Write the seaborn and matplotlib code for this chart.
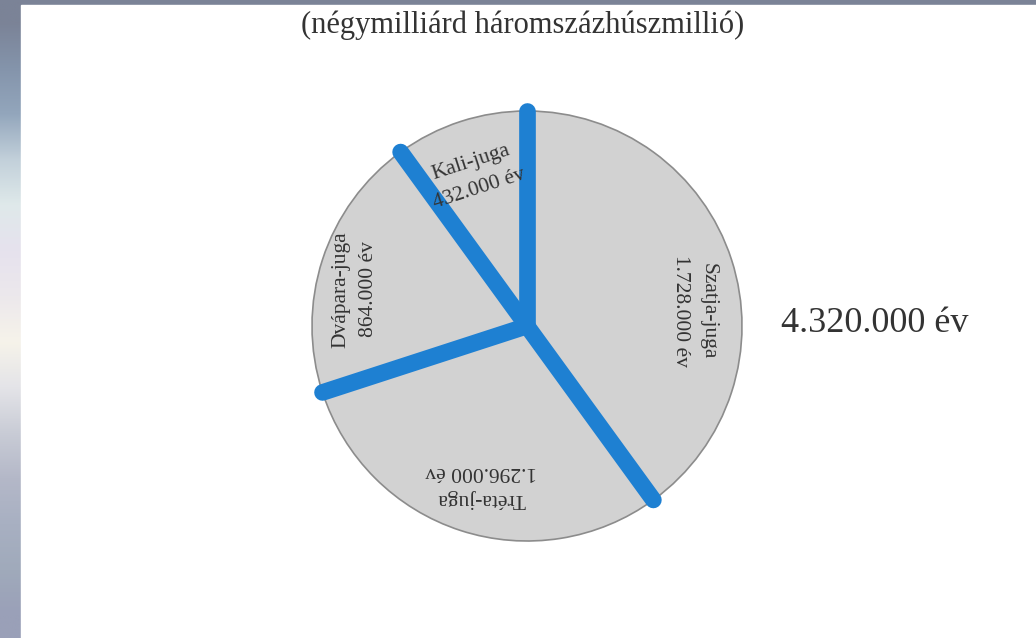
import numpy as np
import matplotlib
matplotlib.use("Agg")
import matplotlib.pyplot as plt
import seaborn as sns

# Yuga lengths (years), clockwise from 12 o'clock
yugas = ["Szatja-juga", "Tréta-juga", "Dvápara-juga", "Kali-juga"]
years = [1728000, 1296000, 864000, 432000]
year_labels = ["1.728.000 év", "1.296.000 év", "864.000 év", "432.000 év"]
total_label = "4.320.000 év"
title = "(négymilliárd háromszázhúszmillió)"

# label styling per wedge: rotation, extra angle offset (deg), radius factor
label_rot = [-90, 180, 90, 18]
label_dang = [-13, 2, 6, 1]
label_rad = [0.78, 0.77, 0.82, 0.74]

W, H = 1036, 638
CX, CY, R = 527, H - 326, 215
GRAY = "#d2d2d2"
BLUE = "#1e80d2"
TXT = "#333333"

sns.set_theme(style="white")
plt.rcParams["font.family"] = ["Liberation Serif", "DejaVu Serif"]

fig = plt.figure(figsize=(W / 100, H / 100), dpi=100)
fig.patch.set_facecolor("#7b8397")

# left background strip (blurry sky)
strip_cols = ["#7b8397", "#8494ab", "#93a6bc", "#c2d0da", "#dfe9ea", "#e6e2ee",
              "#ece8ec", "#f6f3ea", "#e4e4e8", "#c9ccd6", "#b4b8c8", "#a8b0c2",
              "#a0aabb", "#9aa0b8"]
grad = np.array([matplotlib.colors.to_rgb(c) for c in strip_cols])[:, None, :]
bg = fig.add_axes([0, 0, 1, 1])
bg.imshow(grad, extent=[0, 21, 0, H], aspect="auto", interpolation="bilinear")
bg.add_patch(plt.Rectangle((21, 0), W - 21, H - 5, color="white", zorder=2))
bg.set_xlim(0, W)
bg.set_ylim(0, H)
bg.axis("off")

ax = fig.add_axes([0, 0, 1, 1])
ax.set_facecolor("none")
ax.pie(years, startangle=90, counterclock=False, center=(CX, CY), radius=R,
       colors=[GRAY] * len(years), frame=True,
       wedgeprops=dict(edgecolor="#8c8c8c", linewidth=1.2))

# thick blue wedge borders
frac = np.cumsum([0] + years[:-1]) / sum(years)
for f in frac:
    th = np.deg2rad(90 - 360 * f)
    ax.plot([CX, CX + R * np.cos(th)], [CY, CY + R * np.sin(th)],
            color=BLUE, lw=12, solid_capstyle="round", zorder=5)

# wedge labels
mids = (np.cumsum(years) - np.array(years) / 2) / sum(years)
for i, m in enumerate(mids):
    th = np.deg2rad(90 - 360 * m + label_dang[i])
    x = CX + label_rad[i] * R * np.cos(th)
    y = CY + label_rad[i] * R * np.sin(th)
    ax.text(x, y, f"{yugas[i]}\n{year_labels[i]}", rotation=label_rot[i],
            ha="center", va="center", multialignment="center", fontsize=15.5,
            color=TXT, linespacing=1.6, rotation_mode="anchor", zorder=6)

ax.text(523, H - 25, title, ha="center", va="center", fontsize=22, color=TXT)
ax.text(875, H - 324, total_label, ha="center", va="center", fontsize=26, color=TXT)

ax.set_xlim(0, W)
ax.set_ylim(0, H)
ax.set_aspect("equal")
ax.axis("off")

fig.savefig("out.png", dpi=100)
